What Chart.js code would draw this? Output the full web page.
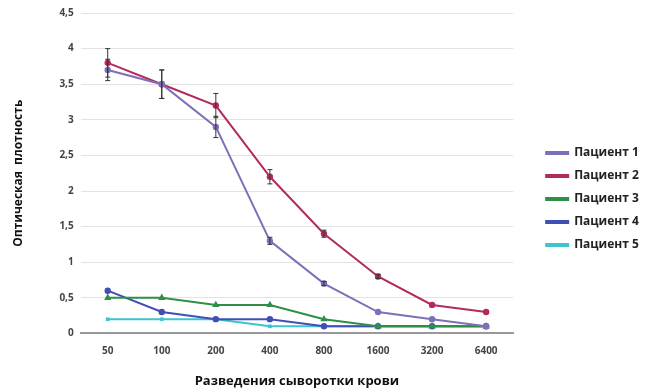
<!DOCTYPE html>
<html>
<head>
<meta charset="utf-8">
<script src="https://cdn.jsdelivr.net/npm/chart.js@4"></script>
<style>
    html, body { margin: 0; padding: 0; background: #fff; }
    #wrap { width: 648px; height: 389px; }
</style>
</head>
<body>
<div id="wrap"><canvas id="chart"></canvas></div>
<script>
const dilutions = ['50', '100', '200', '400', '800', '1600', '3200', '6400'];
const patient1 = [3.7, 3.5, 2.9, 1.3, 0.7, 0.3, 0.2, 0.1];
const patient2 = [3.8, 3.5, 3.2, 2.2, 1.4, 0.8, 0.4, 0.3];
const patient3 = [0.5, 0.5, 0.4, 0.4, 0.2, 0.1, 0.1, 0.1];
const patient4 = [0.6, 0.3, 0.2, 0.2, 0.1, 0.1, 0.1, 0.1];
const patient5 = [0.2, 0.2, 0.2, 0.1, 0.1, 0.1, 0.1, 0.1];
// error (+/-) for patients 1 and 2
const err1 = [0.15, 0.2, 0.15, 0.05, 0.03, 0, 0, 0];
const err2 = [0.2, 0.2, 0.17, 0.1, 0.05, 0.03, 0, 0];
const yTicks = [0, 0.5, 1, 1.5, 2, 2.5, 3, 3.5, 4, 4.5];

const colors = {
    p1: '#7f6fb8',
    p2: '#b32a5e',
    p3: '#2f8f45',
    p4: '#3f4fb5',
    p5: '#3ec3cf'
};

const font = "'Open Sans', 'DejaVu Sans', sans-serif";

const errorBars = {
    id: 'errorBars',
    afterDatasetsDraw(chart) {
        const ctx = chart.ctx;
        const y = chart.scales.y;
        const errs = [err1, err2];
        ctx.save();
        ctx.strokeStyle = '#333';
        ctx.lineWidth = 1;
        errs.forEach((err, di) => {
            const meta = chart.getDatasetMeta(di);
            meta.data.forEach((pt, i) => {
                if (!err[i]) return;
                const v = chart.data.datasets[di].data[i];
                const top = y.getPixelForValue(v + err[i]);
                const bot = y.getPixelForValue(v - err[i]);
                ctx.beginPath();
                ctx.moveTo(pt.x, top); ctx.lineTo(pt.x, bot);
                ctx.moveTo(pt.x - 2.5, top); ctx.lineTo(pt.x + 2.5, top);
                ctx.moveTo(pt.x - 2.5, bot); ctx.lineTo(pt.x + 2.5, bot);
                ctx.stroke();
            });
        });
        ctx.restore();
    }
};

function series(label, data, color, style) {
    return {
        label: label,
        data: data,
        borderColor: color,
        backgroundColor: color,
        borderWidth: 2,
        pointStyle: style,
        pointRadius: 2.2,
        pointHoverRadius: 2.2,
        tension: 0
    };
}

new Chart(document.getElementById('chart'), {
    type: 'line',
    data: {
        labels: dilutions,
        datasets: [
            series('Пациент 1', patient1, colors.p1, 'circle'),
            series('Пациент 2', patient2, colors.p2, 'circle'),
            series('Пациент 3', patient3, colors.p3, 'triangle'),
            series('Пациент 4', patient4, colors.p4, 'circle'),
            series('Пациент 5', patient5, colors.p5, 'crossRot')
        ]
    },
    options: {
        responsive: true,
        maintainAspectRatio: false,
        animation: false,
        layout: { padding: { top: 9, right: 8, left: 11, bottom: 0 } },
        plugins: {
            legend: {
                position: 'right',
                labels: {
                    boxWidth: 22,
                    boxHeight: 2,
                    padding: 11,
                    color: '#222',
                    font: { family: font, size: 12, weight: 'bold' }
                }
            },
            tooltip: { enabled: false }
        },
        scales: {
            x: {
                offset: true,
                grid: { display: false, drawTicks: false },
                border: { color: '#999', width: 2 },
                ticks: { color: '#444', padding: 12, font: { family: font, size: 10, weight: 'bold' } },
                title: {
                    display: true,
                    text: 'Разведения сыворотки крови',
                    color: '#111',
                    padding: { top: 4, bottom: 0 },
                    font: { family: font, size: 13, weight: 'bold' }
                }
            },
            y: {
                min: 0,
                max: 4.5,
                afterBuildTicks: axis => { axis.ticks = yTicks.map(v => ({ value: v })); },
                grid: { color: '#e2e2e2', drawTicks: false },
                border: { display: false },
                ticks: {
                    color: '#444',
                    padding: 7,
                    font: { family: font, size: 10, weight: 'bold' },
                    callback: v => String(v).replace('.', ',')
                },
                title: {
                    display: true,
                    text: 'Оптическая  плотность',
                    color: '#111',
                    padding: { top: 0, bottom: 27 },
                    font: { family: font, size: 12, weight: 'bold' }
                }
            },
            gap: {
                position: 'right',
                type: 'linear',
                display: true,
                grid: { display: false, drawTicks: false },
                border: { display: false },
                ticks: { display: false },
                afterFit: axis => { axis.width = 22; }
            }
        }
    },
    plugins: [errorBars]
});
</script>
</body>
</html>
